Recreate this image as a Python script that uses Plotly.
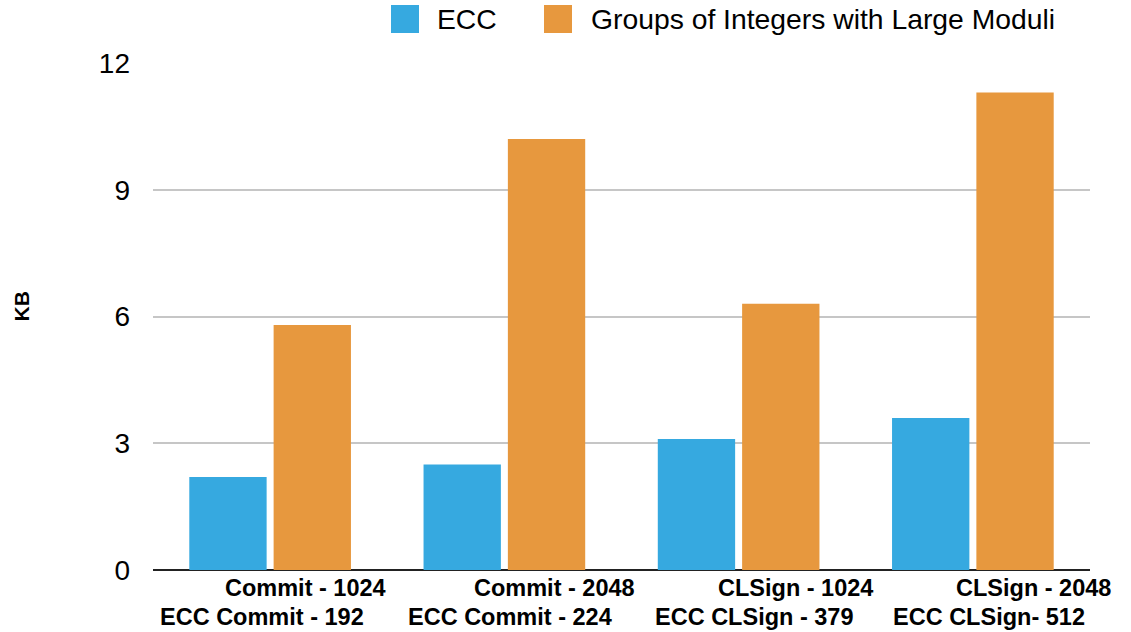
import plotly.graph_objects as go

# Data: size of each operation (KB)
categories = ["Commit - 1024", "Commit - 2048", "CLSign - 1024", "CLSign - 2048"]
ecc_labels = ["ECC Commit - 192", "ECC Commit - 224", "ECC CLSign - 379", "ECC CLSign- 512"]
ecc_kb = [2.2, 2.5, 3.1, 3.6]
groups_kb = [5.8, 10.2, 6.3, 11.3]
y_ticks = [0, 3, 6, 9, 12]

series_names = ["ECC", "Groups of Integers with Large Moduli"]
blue = "#36a9e0"
orange = "#e7983e"
font_family = "Liberation Sans, Arial, Helvetica, sans-serif"

fig = go.Figure()
fig.add_trace(go.Bar(x=categories, y=ecc_kb, name=series_names[0],
                     marker=dict(color=blue, line=dict(width=0)), showlegend=False))
fig.add_trace(go.Bar(x=categories, y=groups_kb, name=series_names[1],
                     marker=dict(color=orange, line=dict(width=0)), showlegend=False))

# Two-line category labels, each line placed under its group
line1_shift = [35, 50, 57, 61]
line2_shift = [-8, 6, 15, 16]
annotations = []
for i, cat in enumerate(categories):
    annotations.append(dict(x=cat, xref="x", y=0, yref="paper", yanchor="middle",
                            yshift=-18, xshift=line1_shift[i], showarrow=False,
                            text="<b>%s</b>" % cat,
                            font=dict(family=font_family, size=23.5, color="#000")))
    annotations.append(dict(x=cat, xref="x", y=0, yref="paper", yanchor="middle",
                            yshift=-47, xshift=line2_shift[i], showarrow=False,
                            text="<b>%s</b>" % ecc_labels[i],
                            font=dict(family=font_family, size=23.5, color="#000")))

# Axis title
annotations.append(dict(x=0, xref="paper", y=0.5, yref="paper", xanchor="center",
                        yanchor="middle", xshift=-132, yshift=10, showarrow=False,
                        textangle=-90, text="<b>KB</b>",
                        font=dict(family=font_family, size=21, color="#000")))

# Legend drawn as large swatches with labels
shapes = []
legend_items = [(series_names[0], blue, 238, 282), (series_names[1], orange, 391, 436)]
for name, color, sx, tx in legend_items:
    shapes.append(dict(type="rect", xref="paper", yref="paper",
                       xsizemode="pixel", ysizemode="pixel", xanchor=0, yanchor=1,
                       x0=sx, x1=sx + 28, y0=30, y1=58,
                       fillcolor=color, line=dict(width=0), layer="above"))
    annotations.append(dict(x=0, xref="paper", y=1, yref="paper", xanchor="left",
                            yanchor="middle", xshift=tx, yshift=44, showarrow=False,
                            text=name, font=dict(family=font_family, size=28.3, color="#000")))

fig.update_layout(
    width=1131, height=632,
    margin=dict(l=153, r=41, t=63, b=62),
    paper_bgcolor="white", plot_bgcolor="white",
    barmode="group", bargap=0.28, bargroupgap=0.083,
    font=dict(family=font_family, color="#000"),
    annotations=annotations, shapes=shapes,
    xaxis=dict(range=[-0.5, 3.5], showticklabels=False, showgrid=False,
               zeroline=False, showline=False, ticks=""),
    yaxis=dict(range=[0, 12], tickvals=y_ticks, ticks="",
               showgrid=True, gridcolor="#c6c6c6", gridwidth=1.5,
               zeroline=True, zerolinecolor="#222", zerolinewidth=2,
               showline=False, ticklabelstandoff=22,
               tickfont=dict(family=font_family, size=28, color="#000")),
)

fig.write_html("out.html")
